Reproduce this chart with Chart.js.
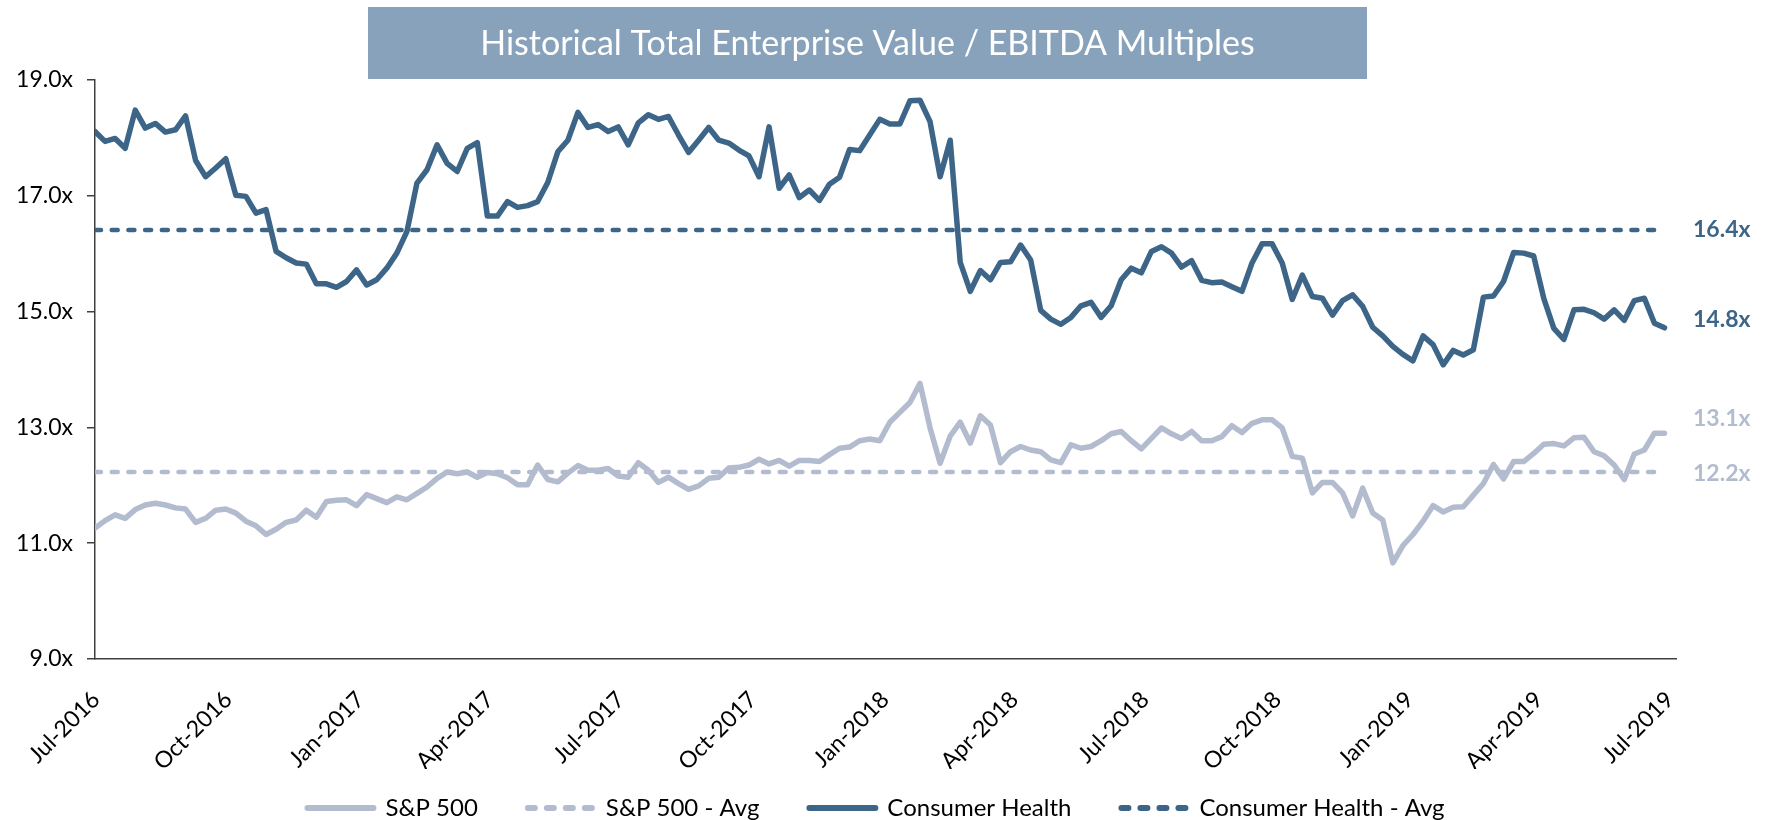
<!DOCTYPE html>
<html>
<head>
<meta charset="utf-8">
<script src="https://cdn.jsdelivr.net/npm/chart.js@4.4.0/dist/chart.umd.min.js"></script>
<style>
  html, body { margin: 0; padding: 0; background: #fff; }
  #wrap { width: 1770px; height: 820px; }
</style>
</head>
<body>
<div id="wrap"><canvas id="evChart" width="1770" height="820"></canvas></div>
<script>
const titleText = 'Historical Total Enterprise Value / EBITDA Multiples';
const seriesNames = ['S&P 500', 'S&P 500 - Avg', 'Consumer Health', 'Consumer Health - Avg'];

// weekly observations, first one on 1 Jul 2016
const firstWeek = Date.UTC(2016, 6, 1);
const tickLabels = ['Jul-2016', 'Oct-2016', 'Jan-2017', 'Apr-2017', 'Jul-2017', 'Oct-2017', 'Jan-2018',
  'Apr-2018', 'Jul-2018', 'Oct-2018', 'Jan-2019', 'Apr-2019', 'Jul-2019'];

const spValues = [
  11.26, 11.39, 11.49, 11.43, 11.58, 11.66, 11.69, 11.66, 11.61, 11.59,
  11.36, 11.43, 11.57, 11.59, 11.52, 11.38, 11.30, 11.15, 11.24, 11.36,
  11.40, 11.57, 11.45, 11.72, 11.74, 11.75, 11.65, 11.84, 11.77, 11.70,
  11.80, 11.75, 11.86, 11.97, 12.12, 12.23, 12.20, 12.23, 12.14, 12.22,
  12.20, 12.13, 12.01, 12.01, 12.35, 12.10, 12.06, 12.21, 12.34, 12.26,
  12.26, 12.29, 12.16, 12.14, 12.39, 12.26, 12.05, 12.14, 12.03, 11.93,
  11.99, 12.12, 12.14, 12.30, 12.31, 12.35, 12.45, 12.37, 12.43, 12.33,
  12.43, 12.43, 12.41, 12.53, 12.64, 12.66, 12.77, 12.80, 12.77, 13.09,
  13.26, 13.43, 13.76, 12.99, 12.38, 12.85, 13.09, 12.73, 13.20, 13.04,
  12.39, 12.58, 12.67, 12.61, 12.58, 12.44, 12.39, 12.70, 12.64, 12.67,
  12.77, 12.89, 12.93, 12.77, 12.63, 12.81, 12.99, 12.89, 12.81, 12.93,
  12.77, 12.77, 12.84, 13.03, 12.91, 13.07, 13.13, 13.13, 12.99, 12.50,
  12.47, 11.87, 12.05, 12.05, 11.87, 11.47, 11.95, 11.52, 11.40, 10.66,
  10.96, 11.15, 11.38, 11.65, 11.54, 11.62, 11.63, 11.83, 12.03, 12.36,
  12.11, 12.41, 12.41, 12.55, 12.71, 12.72, 12.68, 12.82, 12.83, 12.58,
  12.51, 12.35, 12.10, 12.54, 12.61, 12.90, 12.90
];

const chValues = [
  18.11, 17.94, 17.99, 17.82, 18.48, 18.17, 18.25, 18.10, 18.14, 18.38,
  17.61, 17.33, 17.48, 17.64, 17.01, 16.99, 16.70, 16.76, 16.04, 15.93,
  15.84, 15.82, 15.48, 15.48, 15.42, 15.52, 15.72, 15.46, 15.55, 15.75,
  16.01, 16.38, 17.22, 17.45, 17.88, 17.56, 17.42, 17.82, 17.92, 16.65,
  16.65, 16.90, 16.80, 16.83, 16.90, 17.23, 17.76, 17.96, 18.44, 18.18,
  18.23, 18.11, 18.19, 17.88, 18.26, 18.40, 18.32, 18.37, 18.05, 17.75,
  17.96, 18.18, 17.96, 17.91, 17.79, 17.69, 17.33, 18.19, 17.13, 17.36,
  16.97, 17.10, 16.92, 17.20, 17.32, 17.80, 17.78, 18.05, 18.32, 18.24,
  18.24, 18.64, 18.65, 18.28, 17.33, 17.96, 15.85, 15.35, 15.71, 15.55,
  15.85, 15.86, 16.15, 15.89, 15.02, 14.87, 14.78, 14.90, 15.10, 15.16,
  14.90, 15.10, 15.55, 15.75, 15.67, 16.04, 16.12, 16.01, 15.77, 15.88,
  15.54, 15.50, 15.51, 15.43, 15.35, 15.84, 16.17, 16.17, 15.84, 15.21,
  15.63, 15.26, 15.23, 14.94, 15.19, 15.29, 15.09, 14.73, 14.58, 14.40,
  14.26, 14.15, 14.58, 14.43, 14.08, 14.33, 14.25, 14.34, 15.25, 15.27,
  15.52, 16.02, 16.01, 15.96, 15.23, 14.71, 14.52, 15.03, 15.04, 14.98,
  14.87, 15.03, 14.85, 15.19, 15.23, 14.80, 14.72
];

const spAvg = 12.23;
const chAvg = 16.41;

// labels at the right edge of the plot
const endLabelText = ['16.4x', '14.8x', '13.1x', '12.2x'];
const endLabelValue = [16.41, 14.87, 13.16, 12.2];

const darkBlue = '#3C6588';
const lightBlue = '#B3BCCF';
const endLabelColor = [darkBlue, darkBlue, lightBlue, lightBlue];
const FONT = 'Lato';

const DAY = 86400000;
const monthIdx = { Jan: 0, Apr: 3, Jul: 6, Oct: 9 };
const tickDays = tickLabels.map(function (l) {
  const parts = l.split('-');
  return (Date.UTC(+parts[1], monthIdx[parts[0]], 1) - firstWeek) / DAY;
});
const toPoints = (arr) => arr.map((v, i) => ({ x: i * 7, y: v }));

const titleBox = {
  id: 'titleBox',
  beforeDraw(chart) {
    const ctx = chart.ctx;
    ctx.save();
    ctx.fillStyle = '#87A2BA';
    ctx.fillRect(368, 7, 999, 72);
    ctx.fillStyle = '#ffffff';
    ctx.font = '34px ' + FONT;
    ctx.textAlign = 'center';
    ctx.textBaseline = 'middle';
    ctx.fillText(titleText, 867.5, 44);
    ctx.restore();
  }
};

const endLabels = {
  id: 'endLabels',
  afterDatasetsDraw(chart) {
    const ctx = chart.ctx;
    const y = chart.scales.y;
    ctx.save();
    ctx.font = 'bold 23px ' + FONT;
    ctx.textAlign = 'left';
    ctx.textBaseline = 'middle';
    endLabelText.forEach(function (t, i) {
      ctx.fillStyle = endLabelColor[i];
      ctx.fillText(t, chart.chartArea.right + 17, y.getPixelForValue(endLabelValue[i]));
    });
    ctx.restore();
  }
};

// legend sits closer to the axis labels than its item spacing would allow
const legendPlace = {
  id: 'legendPlace',
  afterLayout(chart) {
    const lg = chart.legend;
    lg.top = lg.bottom - 74;
    lg.left = 0;
    lg.right = chart.width - 18;
  }
};

const chart = new Chart(document.getElementById('evChart'), {
  type: 'line',
  data: {
    datasets: [{
      label: seriesNames[0],
      data: toPoints(spValues),
      borderColor: lightBlue,
      borderWidth: 5.5,
      borderJoinStyle: 'round',
      borderCapStyle: 'round'
    }, {
      label: seriesNames[1],
      data: toPoints(spValues.map(() => spAvg)),
      borderColor: lightBlue,
      borderWidth: 4.5,
      borderDash: [6, 10.7],
      borderCapStyle: 'round'
    }, {
      label: seriesNames[2],
      data: toPoints(chValues),
      borderColor: darkBlue,
      borderWidth: 5.5,
      borderJoinStyle: 'round',
      borderCapStyle: 'round'
    }, {
      label: seriesNames[3],
      data: toPoints(chValues.map(() => chAvg)),
      borderColor: darkBlue,
      borderWidth: 4.5,
      borderDash: [6, 10.7],
      borderCapStyle: 'round'
    }]
  },
  options: {
    responsive: false,
    animation: false,
    devicePixelRatio: 1,
    elements: { point: { radius: 0 }, line: { tension: 0 } },
    layout: { padding: { top: 80, right: 94, bottom: 0, left: 0 } },
    scales: {
      x: {
        type: 'linear',
        min: 0,
        max: 1100,
        afterBuildTicks(axis) {
          axis.ticks = tickDays.map(v => ({ value: v }));
        },
        afterFit(axis) {
          axis.height = 110;
          axis.paddingLeft = 0;
          axis.paddingRight = 0;
        },
        grid: { drawOnChartArea: false, drawTicks: false },
        border: { display: true, color: '#404040', width: 1.5 },
        ticks: {
          autoSkip: false,
          minRotation: 45,
          maxRotation: 45,
          padding: 27,
          labelOffset: 1,
          color: '#000',
          font: { family: FONT, size: 23 },
          callback: (v, i) => tickLabels[i]
        }
      },
      y: {
        min: 9,
        max: 19,
        afterFit(axis) {
          axis.width = 95;
          axis.paddingTop = 0;
          axis.paddingBottom = 0;
        },
        grid: { drawOnChartArea: false, drawTicks: true, tickLength: 8, color: '#404040', lineWidth: 1.5 },
        border: { display: true, color: '#404040', width: 1.5 },
        ticks: {
          stepSize: 2,
          padding: 14,
          color: '#000',
          font: { family: FONT, size: 23 },
          callback: v => v.toFixed(1) + 'x'
        }
      }
    },
    plugins: {
      legend: {
        position: 'bottom',
        maxHeight: 51,
        labels: {
          usePointStyle: true,
          pointStyle: 'line',
          pointStyleWidth: 66,
          padding: 50,
          color: '#000',
          font: { family: FONT, size: 24 },
          generateLabels(c) {
            const items = Chart.defaults.plugins.legend.labels.generateLabels(c);
            items.forEach(it => {
              const ds = c.data.datasets[it.datasetIndex];
              it.strokeStyle = ds.borderColor;
              it.lineWidth = 6;
              it.lineCap = 'round';
              it.lineDash = ds.borderDash ? [7, 12] : [];
            });
            return items;
          }
        }
      },
      tooltip: { enabled: false }
    }
  },
  plugins: [titleBox, endLabels, legendPlace]
});
</script>
</body>
</html>
